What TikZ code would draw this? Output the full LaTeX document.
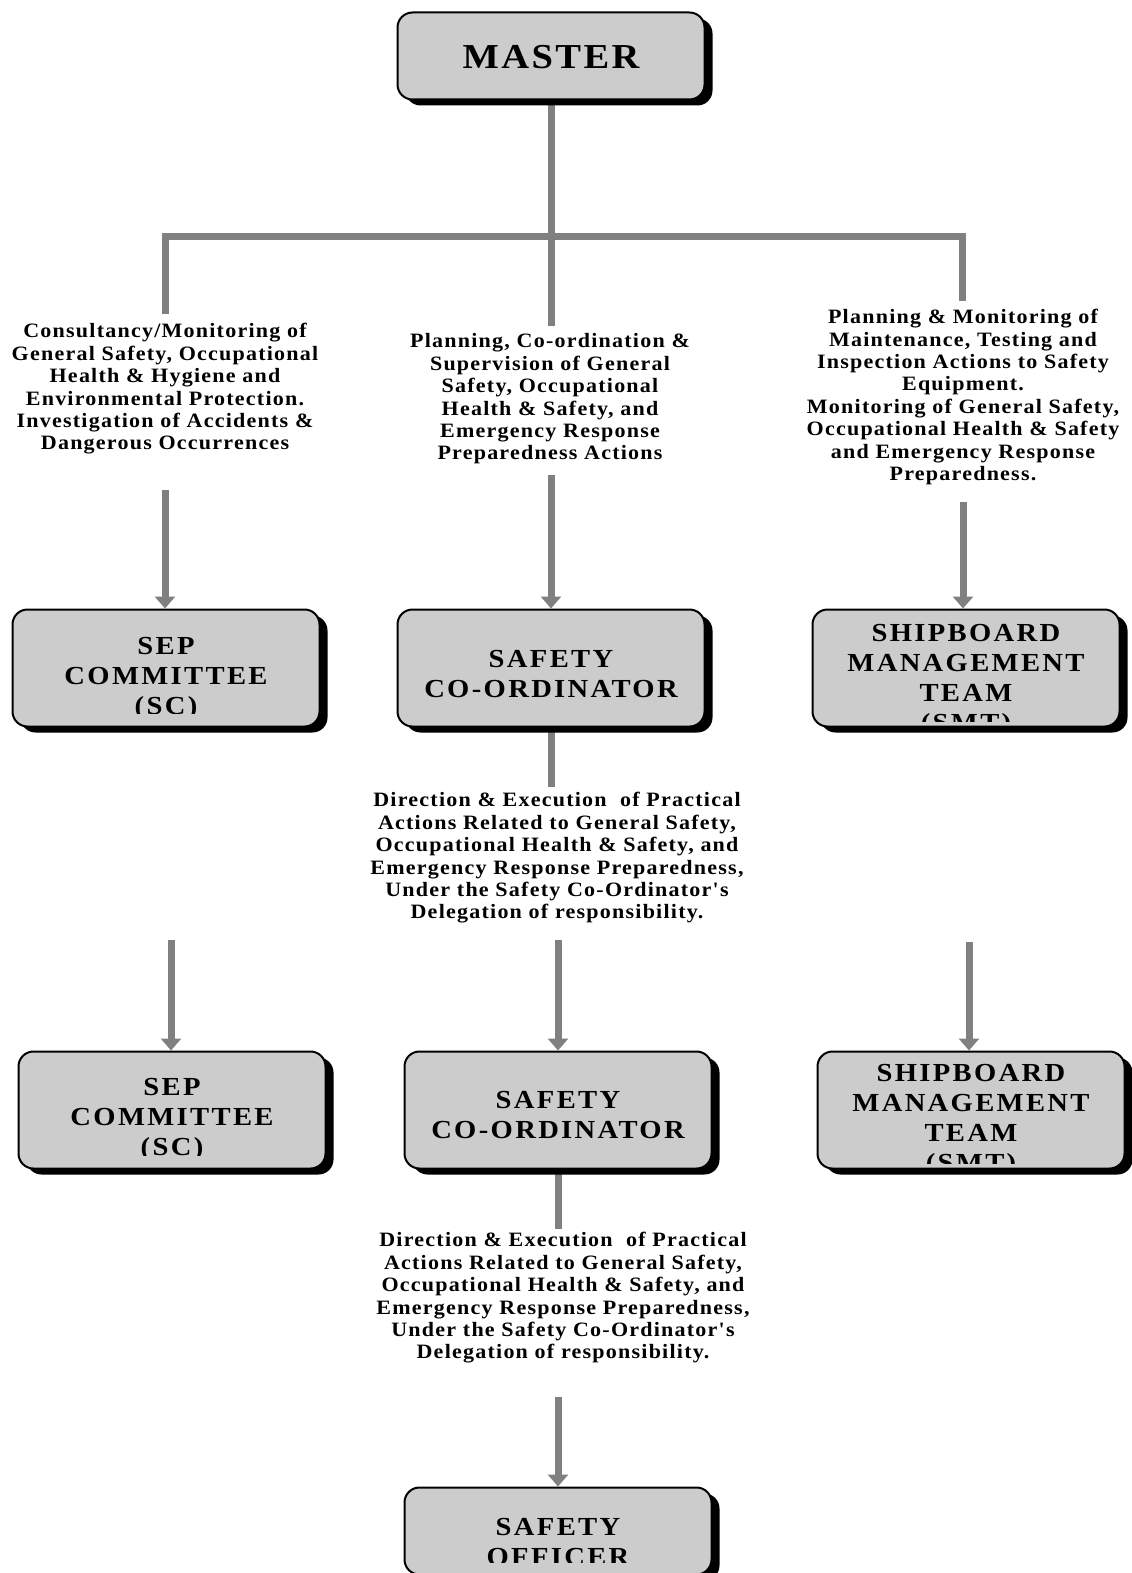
\documentclass[tikz,border=0pt]{standalone}
\usepackage{fontspec}
\setmainfont{Liberation Serif}
\newfontfamily\descfont[LetterSpace=6,FakeStretch=1.08]{Liberation Serif}
\newfontfamily\boxfont[LetterSpace=9,FakeStretch=1.1]{Liberation Serif}
\newfontfamily\masterfont[LetterSpace=7,FakeStretch=1.1]{Liberation Serif}
\usetikzlibrary{arrows.meta,shadows,backgrounds}
\definecolor{boxgray}{RGB}{204,204,204}
\definecolor{linegray}{RGB}{128,128,128}
\tikzset{
  orgbox/.style={draw=black, line width=1pt, fill=boxgray, rounded corners=7.5pt,
    drop shadow={shadow xshift=4pt, shadow yshift=-3pt, fill=black, opacity=1},
    inner sep=0pt, minimum width=153.5pt},
  rowbox/.style={orgbox, minimum height=58.5pt},
  topbox/.style={orgbox, minimum height=43.5pt},
  boxlabel/.style={font=\boxfont\bfseries\fontsize{13}{15}\selectfont, align=center, inner sep=0pt},
  masterlabel/.style={font=\masterfont\bfseries\fontsize{17.5}{20}\selectfont, align=center, inner sep=0pt},
  desc/.style={font=\descfont\bfseries\fontsize{10.2}{11.2}\selectfont, align=center, inner sep=0pt},
  conn/.style={draw=linegray, line width=3.5pt, line join=miter},
  arr/.style={conn, -{Triangle[width=10pt,length=6pt]}},
}
\begin{document}
\begin{tikzpicture}[x=0.5pt,y=-0.5pt]
\useasboundingbox (0,0) rectangle (1131,1573);

% boxes
\node[topbox] (master) at (551,56) {};
\node[masterlabel] (mastert) at (551,57) {MASTER};

\node[rowbox] (sep1) at (166,668) {};
\node[rowbox] (sc1) at (551,668) {};
\node[rowbox] (smt1) at (966,668) {};
\node[rowbox] (sep2) at (172,1110) {};
\node[rowbox] (sc2) at (558,1110) {};
\node[rowbox] (smt2) at (971,1110) {};
\node[topbox] (so) at (558,1531) {};

\begin{scope}
\clip ([yshift=7pt]sep1.south west) rectangle (sep1.north east);
\node[boxlabel] (sep1t) at (166,679) {SEP\\COMMITTEE\\(SC)};
\end{scope}
\node[boxlabel] (sc1t) at (551,674) {SAFETY\\CO-ORDINATOR};
\begin{scope}
\clip ([yshift=3pt]smt1.south west) rectangle (smt1.north east);
\node[boxlabel] (smt1t) at (966,681) {SHIPBOARD\\MANAGEMENT\\TEAM\\(SMT)};
\end{scope}

\begin{scope}
\clip ([yshift=7pt]sep2.south west) rectangle (sep2.north east);
\node[boxlabel] (sep2t) at (172,1120) {SEP\\COMMITTEE\\(SC)};
\end{scope}
\node[boxlabel] (sc2t) at (558,1115) {SAFETY\\CO-ORDINATOR};
\begin{scope}
\clip ([yshift=6.5pt]so.south west) rectangle (so.north east);
\node[boxlabel] (sot) at (558,1542) {SAFETY\\OFFICER};
\end{scope}
\begin{scope}
\clip ([yshift=3pt]smt2.south west) rectangle (smt2.north east);
\node[boxlabel] (smt2t) at (971,1121) {SHIPBOARD\\MANAGEMENT\\TEAM\\(SMT)};
\end{scope}

% descriptions
\node[desc] (descL) at (165,389) {Consultancy/Monitoring of\\General Safety, Occupational\\Health \& Hygiene and\\Environmental Protection.\\Investigation of Accidents \&\\Dangerous Occurrences};
\node[desc] (descC) at (550,399) {Planning, Co-ordination \&\\Supervision of General\\Safety, Occupational\\Health \& Safety, and\\Emergency Response\\Preparedness Actions};
\node[desc] (descR) at (963,397) {Planning \& Monitoring of\\Maintenance, Testing and\\Inspection Actions to Safety\\Equipment.\\Monitoring of General Safety,\\Occupational Health \& Safety\\and Emergency Response\\Preparedness.};
\node[desc] (descD1) at (557,858) {Direction \& Execution \ of Practical\\Actions Related to General Safety,\\Occupational Health \& Safety, and\\Emergency Response Preparedness,\\Under the Safety Co-Ordinator's\\Delegation of responsibility.};
\node[desc] (descD2) at (563,1298) {Direction \& Execution \ of Practical\\Actions Related to General Safety,\\Occupational Health \& Safety, and\\Emergency Response Preparedness,\\Under the Safety Co-Ordinator's\\Delegation of responsibility.};

% connector coordinates
\coordinate (mend) at (551,326);
\coordinate (barL) at (165,237);
\coordinate (barR) at (962,237);
\coordinate (lend) at (165,314);
\coordinate (rend) at (962,301);
\coordinate (aL) at (165,490);
\coordinate (aC) at (551,475);
\coordinate (aR) at (963,502);
\coordinate (sc1end) at (551,787);
\coordinate (bL) at (171,940);
\coordinate (bC) at (558,940);
\coordinate (bR) at (969,942);
\coordinate (sc2end) at (558,1229);
\coordinate (cC) at (558,1397);

\begin{scope}[on background layer]
\draw[conn] (master.south) -- (mend);
\draw[conn] (lend) -- (barL) -- (barR) -- (rend);
\draw[arr] (aL) -- (aL |- sep1.north);
\draw[arr] (aC) -- (aC |- sc1.north);
\draw[arr] (aR) -- (aR |- smt1.north);
\draw[conn] (sc1.south) -- (sc1end);
\draw[arr] (bL) -- (bL |- sep2.north);
\draw[arr] (bC) -- (bC |- sc2.north);
\draw[arr] (bR) -- (bR |- smt2.north);
\draw[conn] (sc2.south) -- (sc2end);
\draw[arr] (cC) -- (cC |- so.north);
\end{scope}
\end{tikzpicture}
\end{document}
